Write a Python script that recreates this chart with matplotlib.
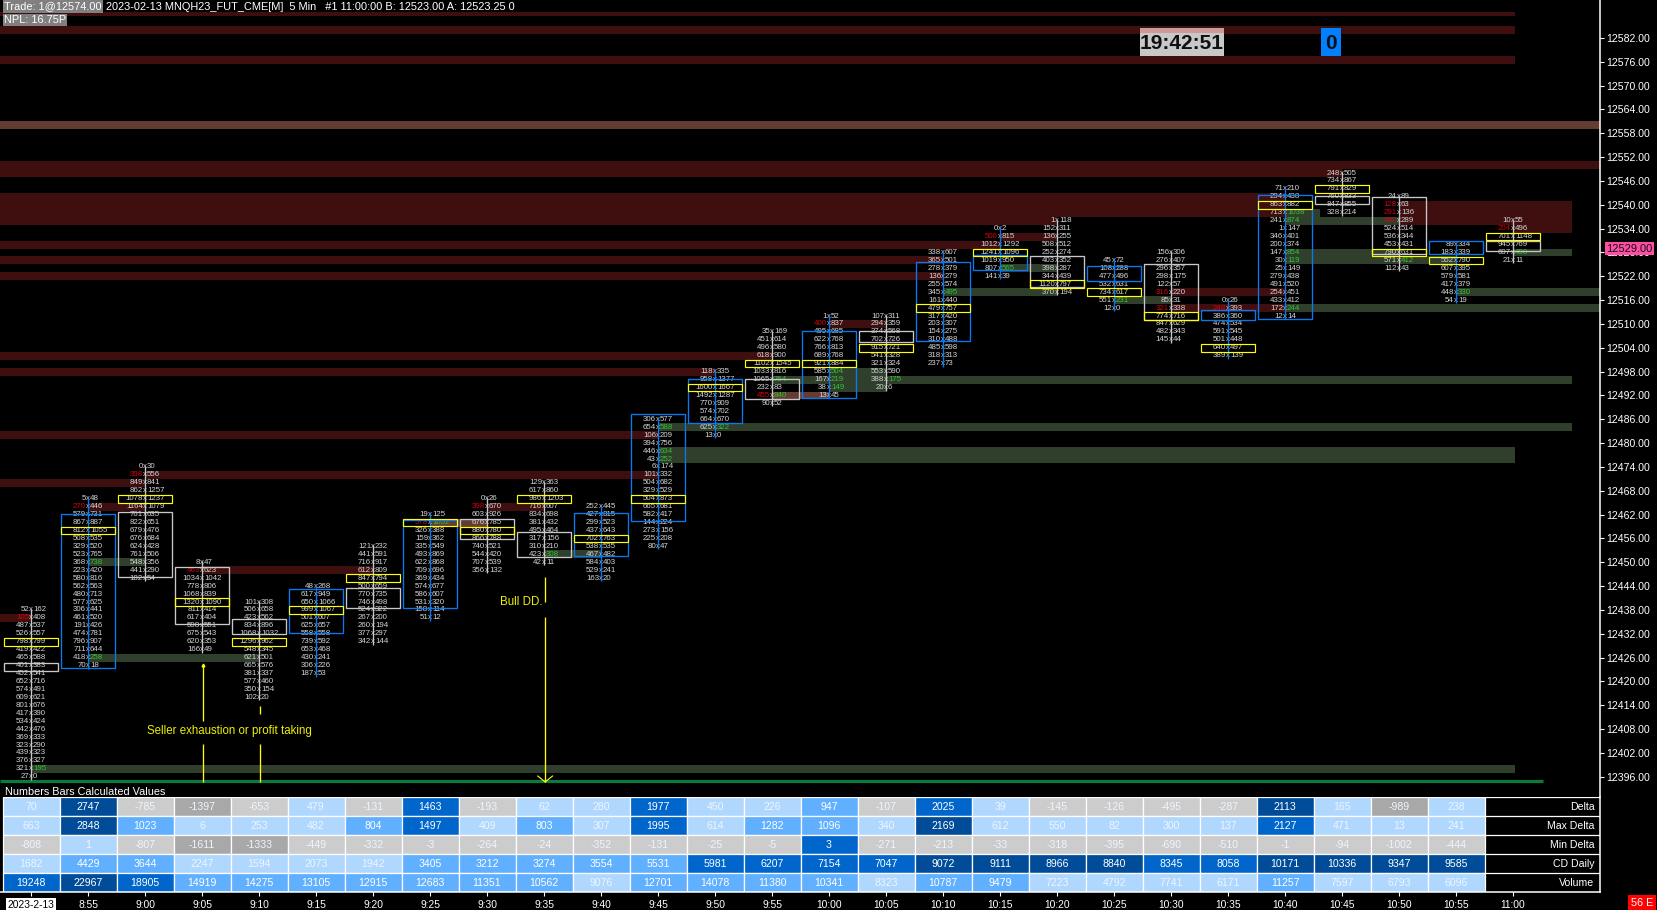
import matplotlib
matplotlib.use("Agg")
import matplotlib.pyplot as plt
from matplotlib.patches import Rectangle

W, H = 1657, 910
plt.rcParams['font.family'] = ['Liberation Sans', 'DejaVu Sans']

# ---------- data ----------
times = ["2023-2-13", "8:55", "9:00", "9:05", "9:10", "9:15", "9:20", "9:25", "9:30", "9:35", "9:40",
         "9:45", "9:50", "9:55", "10:00", "10:05", "10:10", "10:15", "10:20", "10:25", "10:30",
         "10:35", "10:40", "10:45", "10:50", "10:55", "11:00"]

top_prices = [12438, 12466, 12474, 12450, 12440, 12444, 12454, 12462, 12466, 12470, 12464, 12486, 12498, 12508,
              12512, 12512, 12528, 12534, 12536, 12526, 12528, 12516, 12544, 12548, 12542, 12530, 12536]

footprint = [
    "52x162 105x408 487x537 526x557 798x799 419x422 465x588 401x383 452x541 652x716 574x491 609x621 801x676 417x390 534x424 442x476 369x333 323x290 439x323 376x327 321x195 27x0",
    "5x48 270x446 579x731 867x887 812x1055 508x535 329x520 523x765 368x738 223x420 580x816 562x563 480x713 577x625 306x441 461x520 191x426 474x781 796x907 711x644 418x258 70x18",
    "0x30 398x556 849x841 862x1257 1078x1237 1164x1079 761x635 822x651 679x476 676x684 624x428 761x506 548x356 441x290 182x54",
    "8x47 463x623 1034x1042 778x806 1068x839 1320x1090 811x414 617x404 598x551 675x543 620x353 166x49",
    "101x308 506x658 423x562 834x896 1068x1032 1296x962 548x345 621x501 665x576 381x337 577x460 350x154 102x20",
    "48x268 617x949 650x1066 999x1067 501x607 625x657 558x558 739x592 653x468 430x241 306x226 187x53",
    "121x232 441x591 716x917 612x809 847x794 500x659 770x735 746x498 524x322 267x200 260x194 377x297 342x144",
    "19x125 578x1052 326x388 159x362 335x549 493x869 622x868 709x696 369x434 574x677 586x607 531x320 158x114 51x12",
    "0x26 398x670 603x926 676x785 880x780 866x788 740x521 544x420 707x539 356x132",
    "129x363 617x860 986x1203 716x607 834x698 381x432 495x464 317x156 310x210 423x308 42x11",
    "252x445 427x815 299x523 437x643 702x763 538x535 467x482 584x403 529x241 163x20",
    "306x577 654x588 106x209 394x756 446x634 43x252 6x174 101x332 504x682 329x529 504x873 665x681 582x417 144x224 273x156 225x208 80x47",
    "118x335 958x1377 1600x1667 1492x1287 770x909 574x702 664x670 625x322 13x0",
    "35x169 451x614 496x580 618x900 1102x1545 1033x816 1065x764 232x83 455x840 90x52",
    "1x52 400x837 495x685 622x768 766x813 689x768 921x884 585x504 167x219 38x149 13x45",
    "107x311 294x359 374x568 702x726 915x721 541x328 321x324 553x590 388x175 20x6",
    "338x607 365x501 278x379 136x279 255x574 345x495 161x440 479x757 317x420 203x307 154x275 310x488 485x598 318x313 237x73",
    "0x2 500x815 1012x1292 1241x1096 1019x950 807x565 141x39",
    "1x118 152x311 136x255 508x512 252x274 403x352 398x287 344x439 1120x797 370x194",
    "45x72 108x288 477x496 532x631 734x617 551x231 12x0",
    "156x306 276x407 296x357 298x175 122x57 316x220 85x31 321x338 774x716 847x629 482x343 145x44",
    "0x26 248x393 386x360 474x534 591x545 501x448 640x497 389x139",
    "71x210 294x438 863x882 713x1038 241x874 1x147 346x401 200x374 147x854 30x119 25x149 279x438 491x520 254x451 433x412 172x244 12x14",
    "248x505 734x867 791x829 760x833 847x855 328x214",
    "24x89 128x63 291x136 462x289 524x514 536x344 453x431 790x631 571x412 112x43",
    "89x334 183x339 552x790 607x395 579x581 417x379 448x330 54x19",
    "10x55 204x496 701x1148 945x769 697x490 21x11",
]

box_tops = [12424.57, 12462.16, 12462.59, 12448.74, 12435.65, 12443.20, 12443.45, 12460.65, 12460.82, 12457.55,
            12462.34, 12487.26, 12496.07, 12496.07, 12508.16, 12508.16, 12525.53, 12527.29, 12527.04, 12524.52,
            12525.02, 12513.44, 12542.40, 12542.15, 12541.89, 12530.82, 12530.89]
box_bottoms = [12422.56, 12423.27, 12446.37, 12434.39, 12432.02, 12432.28, 12438.57, 12438.57, 12455.94, 12451.41,
               12451.66, 12460.40, 12485.15, 12491.04, 12491.29, 12505.46, 12505.79, 12523.67, 12519.39, 12520.75,
               12510.93, 12511.00, 12511.25, 12540.28, 12527.54, 12527.69, 12528.37]
up_bars = [1, 5, 7, 10, 11, 12, 14, 16, 17, 19, 21, 22, 25]
poc_rows = [4, 4, 4, 5, 5, 3, 4, 1, 4, 2, 4, 10, 2, 4, 6, 4, 7, 3, 8, 4, 8, 6, 2, 2, 7, 2, 2]

red_bids = {0: [1], 1: [1], 2: [1], 3: [1], 7: [1], 8: [1], 13: [8], 14: [1], 17: [1], 20: [5, 7], 21: [1],
            24: [1, 2, 3], 26: [1]}
green_asks = {0: [20], 1: [8, 20], 7: [1], 9: [9], 11: [1, 4, 5], 12: [7], 13: [6, 8], 14: [7, 8, 9], 15: [8],
              16: [5], 17: [5], 19: [5], 22: [3, 4, 8, 9, 15], 24: [8], 25: [6], 26: [4]}

LEFT, EDGE, R1, R2 = -0.55, 27.53, 27.035, 26.04
red_zones = [(12584, LEFT, R2), (12576.5, LEFT, R2), (12550, LEFT, EDGE), (12548, LEFT, 23), (12542, LEFT, 22),
             (12540, LEFT, 22), (12538, LEFT, 22), (12536, LEFT, 18), (12540, 24, R1), (12538, 24, R1),
             (12536, 24, R1), (12534, 26, R1), (12532, 17, 18), (12530, LEFT, 17), (12526, LEFT, 16),
             (12522, LEFT, 16), (12510, 14, 15), (12502, LEFT, 13), (12498, LEFT, 12), (12482, LEFT, 11),
             (12472, 2, 11), (12470, LEFT, 2), (12464, 1, 2), (12464, 8, 9), (12448, 3, 6), (12436, LEFT, 0),
             (12518, 20, 22), (12514, 20, 22)]
thin_zones = [(12588, LEFT, R2)]
green_zones = [(12398, 0, R2), (12450, 1, 2), (12426, 1, 4), (12452, 9, 10), (12484, 11, R1), (12478, 11, R2),
               (12476, 11, R2), (12496, 13, R1), (12498, 14, 15), (12494, 14, 15), (12518, 16, 18), (12524, 17, 18),
               (12516, 19, 20), (12514, 22, EDGE), (12536, 22, 24), (12538, 22, 22.62), (12528, 22, 24),
               (12526, 22, 25), (12518, 25, EDGE), (12528, 26, R1)]
brown_zones = [(12560, LEFT, EDGE), (12460, 7, 8), (12492, 13, 14)]

callout_segments = [(3.02, 12424.1, 12410.1), (3.02, 12404.3, 12394.7), (4.02, 12413.8, 12411.8),
                    (4.02, 12404.3, 12394.7), (9.02, 12446.3, 12440.0), (9.02, 12436.2, 12394.7)]

y_ticks = list(range(12396, 12583, 6))
last_price = 12529.00

table_labels = ["Delta", "Max Delta", "Min Delta", "CD Daily", "Volume"]
delta = [70, 2747, -785, -1397, -653, 479, -131, 1463, -193, 62, 280, 1977, 450, 226, 947, -107, 2025, 39, -145, -126,
         -495, -287, 2113, 165, -989, 238]
max_delta = [663, 2848, 1023, 6, 253, 482, 804, 1497, 409, 803, 307, 1995, 614, 1282, 1096, 340, 2169, 612, 550, 82,
             300, 137, 2127, 471, 13, 241]
min_delta = [-808, 1, -807, -1611, -1333, -449, -332, -3, -264, -24, -352, -131, -25, -5, 3, -271, -213, -33, -318,
             -395, -690, -510, -1, -94, -1002, -444]
cd_daily = [1682, 4429, 3644, 2247, 1594, 2073, 1942, 3405, 3212, 3274, 3554, 5531, 5981, 6207, 7154, 7047, 9072,
            9111, 8966, 8840, 8345, 8058, 10171, 10336, 9347, 9585]
volume = [19248, 22967, 18905, 14919, 14275, 13105, 12915, 12683, 11351, 10562, 9076, 12701, 14078, 11380, 10341,
          8323, 10787, 9479, 7223, 4792, 7741, 6171, 11257, 7597, 6793, 6096]
# (dark-grey limit, light-blue limit, mid-blue limit, strong-blue limit)
table_limits = [(-900, 900, 1400, 2050), (-900, 700, 1400, 2150), (-1100, 2, 2, 1e9), (-1e9, 3000, 5900, 8500),
                (-1e9, 9200, 16000, 20000)]

# ---------- styles ----------
BLUE, GREY, YEL = "#0a78f0", "#c8c8c8", "#ffff00"
RED_Z, GREEN_Z, BROWN_Z = "#3f0f10", "#303f2c", "#633d33"


def cell_colour(v, lim):
    if v < 0:
        return "#a8a8a8" if v < lim[0] else "#cccccc"
    if v < lim[1]:
        return "#b0d8ff"
    if v < lim[2]:
        return "#60b0ff"
    if v < lim[3]:
        return "#0066cc"
    return "#004c99"


def px_axes(l, t, r, b):
    return [l / W, 1 - b / H, (r - l) / W, (b - t) / H]


fig = plt.figure(figsize=(W / 100, H / 100), dpi=100, facecolor="black")
ax = fig.add_axes(px_axes(0, 0, 1600, 796.7), facecolor="black")
ax.set_xlim(-0.544, 27.526)
ax.set_ylim(12390.99, 12591.567)
ax.xaxis.set_visible(False)
ax.yaxis.tick_right()
ax.set_yticks(y_ticks)
ax.set_yticklabels([f"{t:.2f}" for t in y_ticks])
ax.tick_params(axis="y", colors="white", length=3, width=0.8, pad=1.5, labelsize=7.6)
for s in ("top", "left", "bottom"):
    ax.spines[s].set_visible(False)
ax.spines["right"].set_color("white")
ax.spines["right"].set_linewidth(1.1)

# zones
for zones, col, hgt in ((red_zones, RED_Z, 2), (thin_zones, RED_Z, 1), (green_zones, GREEN_Z, 2), (brown_zones, BROWN_Z, 2)):
    for p, a, b in zones:
        ax.barh(p, b - a, left=a, height=hgt, color=col, linewidth=0, zorder=1)

# green base line
ax.plot([LEFT, 26.53], [12394.9, 12394.9], color="#0b7a3a", lw=2.3, zorder=2, solid_capstyle="butt")

# footprint bars
HALF = 0.477
for i, txt in enumerate(footprint):
    rows = txt.split()
    colour = BLUE if i in up_bars else GREY
    low = top_prices[i] - 2 * (len(rows) - 1)
    for j, r in enumerate(rows):
        bid, ask = r.split("x")
        p = top_prices[i] - 2 * j
        bc = "#d8000c" if j in red_bids.get(i, []) else "#d4d4d4"
        ac = "#2fc42f" if j in green_asks.get(i, []) else "#d4d4d4"
        ax.text(i - 0.035, p, bid, ha="right", va="center", color=bc, fontsize=5.7, zorder=3)
        ax.text(i, p, "x", ha="center", va="center", color="#d4d4d4", fontsize=5.7, zorder=3)
        ax.text(i + 0.035, p, ask, ha="left", va="center", color=ac, fontsize=5.7, zorder=3)
    ax.plot([i, i], [top_prices[i] + 0.3, low - 0.75], color=colour, lw=0.95, zorder=4, solid_capstyle="butt")
    ax.add_patch(Rectangle((i - HALF, box_bottoms[i]), 2 * HALF, box_tops[i] - box_bottoms[i], fill=False,
                           edgecolor=colour, lw=0.95, zorder=4))
    pp = top_prices[i] - 2 * poc_rows[i]
    ax.add_patch(Rectangle((i - HALF, pp - 0.95), 2 * HALF, 1.9, fill=False, edgecolor=YEL, lw=0.85, zorder=5))

# callouts
for x, a, b in callout_segments:
    ax.plot([x, x], [a, b], color=YEL, lw=0.95, zorder=6, solid_capstyle="butt")
ax.plot([3.02], [12424.1], marker="^", ms=2.0, color=YEL, zorder=6)
ax.plot([8.89, 9.02, 9.15], [12396.2, 12394.7, 12396.2], color=YEL, lw=0.8, zorder=6)
ax.text(2.03, 12407.5, "Seller exhaustion or profit taking", color="#eef000", fontsize=8.3, va="center", ha="left", zorder=7)
ax.text(8.23, 12440, "Bull DD.", color="#eef000", fontsize=8.3, va="center", ha="left", zorder=7)

# clock and counter
ax.add_patch(Rectangle((19.456, 12577.47), 1.474, 7.03, color="#c8c8c8", lw=0, zorder=8))
ax.add_patch(Rectangle((19.456, 12583.3), 1.474, 1.2, color="#cc9a9a", lw=0, zorder=9))
ax.text(20.19, 12580.6, "19:42:51", color="#101010", fontsize=15, fontweight="bold", ha="center", va="center", zorder=10)
ax.add_patch(Rectangle((22.63, 12577.47), 0.35, 7.03, color="#0080ff", lw=0, zorder=8))
ax.text(22.805, 12580.6, "0", color="#101010", fontsize=15, fontweight="bold", ha="center", va="center", zorder=10)

# last-price tag
ax.annotate(f"{last_price:.2f}", xy=(1, last_price), xycoords=("axes fraction", "data"), xytext=(4.5, 0),
            textcoords="offset points", color="#101010", fontsize=8.0, va="center", ha="left", zorder=20,
            annotation_clip=False,
            bbox=dict(boxstyle="square,pad=0.12", fc="#ff4da6", ec="none"))

ax.text(-0.45, 12392.2, "Numbers Bars Calculated Values", color="white", fontsize=7.8, va="center", ha="left", zorder=7)

# header
fig.text(4 / W, 1 - 6.5 / H, "Trade: 1@12574.00", color="white", fontsize=7.9, va="center", ha="left",
         bbox=dict(boxstyle="square,pad=0.1", fc="#808080", ec="none"), zorder=30)
fig.text(106 / W, 1 - 6.5 / H, "2023-02-13 MNQH23_FUT_CME[M]  5 Min   #1 11:00:00 B: 12523.00 A: 12523.25 0",
         color="white", fontsize=7.9, va="center", ha="left", zorder=30)
fig.text(4 / W, 1 - 20 / H, "NPL: 16.75P", color="white", fontsize=7.9, va="center", ha="left",
         bbox=dict(boxstyle="square,pad=0.1", fc="#808080", ec="none"), zorder=30)

# table
tax = fig.add_axes(px_axes(0, 796.7, 1600, 892), facecolor="black")
tax.set_xlim(-0.544, 27.526)
tax.set_ylim(5, 0)
for s in ("top", "left"):
    tax.spines[s].set_visible(False)
tax.spines["right"].set_color("white")
tax.spines["right"].set_linewidth(1.1)
tax.spines["bottom"].set_color("white")
tax.spines["bottom"].set_linewidth(1.1)
tax.set_yticks([])
tax.set_xticks(range(len(times)))
tax.set_xticklabels(times)
tax.tick_params(axis="x", colors="white", length=3, width=0.8, pad=2.5, labelsize=7.4)
tl = tax.get_xticklabels()[0]
tl.set_color("black")
tl.set_bbox(dict(boxstyle="square,pad=0.14", fc="white", ec="none"))

table_rows = [delta, max_delta, min_delta, cd_daily, volume]
for r, (vals, lim) in enumerate(zip(table_rows, table_limits)):
    for c, v in enumerate(vals):
        col = cell_colour(v, lim)
        tax.add_patch(Rectangle((c - 0.5, r), 1, 1, facecolor=col, edgecolor="white", lw=0.9, zorder=2))
        tc = "#eef5ff" if col in ("#b0d8ff", "#cccccc", "#a8a8a8") else "white"
        tax.text(c, r + 0.52, str(v), color=tc, ha="center", va="center", fontsize=7.6, zorder=3)
    tax.plot([len(vals) - 0.5, 27.5], [r, r], color="white", lw=0.9, zorder=2)
    tax.text(27.43, r + 0.52, table_labels[r], color="white", ha="right", va="center", fontsize=7.6, zorder=3)

fig.text(1642 / W, 1 - 902.5 / H, "56 E", color="white", fontsize=7.8, ha="center", va="center",
         bbox=dict(boxstyle="square,pad=0.25", fc="#ff0000", ec="none"))

fig.savefig("out.png", dpi=100, facecolor="black")
